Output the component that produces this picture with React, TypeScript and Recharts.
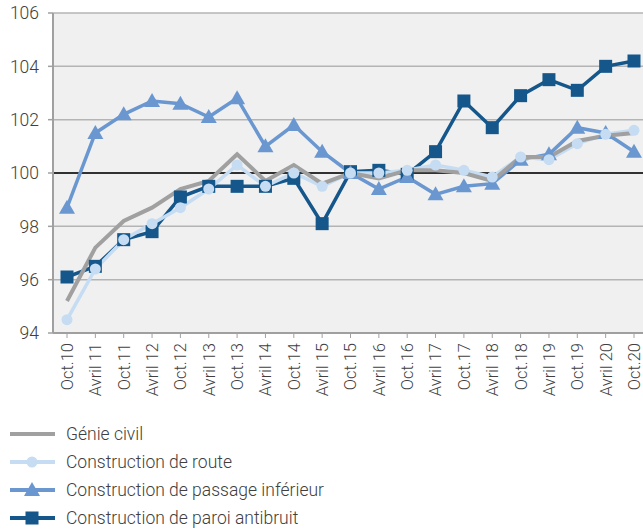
import { CartesianGrid, Legend, Line, LineChart, ReferenceLine, XAxis, YAxis } from "recharts";

const categories = [
  "Oct.10", "Avril 11", "Oct.11", "Avril 12", "Oct.12", "Avril 13", "Oct.13", "Avril 14",
  "Oct.14", "Avril 15", "Oct.15", "Avril 16", "Oct.16", "Avril 17", "Oct.17", "Avril 18",
  "Oct.18", "Avril 19", "Oct.19", "Avril 20", "Oct.20",
];
const genieCivil = [95.2, 97.2, 98.2, 98.7, 99.4, 99.7, 100.7, 99.7, 100.3, 99.6, 100.0, 99.8, 100.1, 100.1, 100.0, 99.7, 100.6, 100.6, 101.2, 101.4, 101.5];
const route = [94.5, 96.4, 97.5, 98.1, 98.7, 99.4, 100.3, 99.5, 100.0, 99.5, 100.0, 100.0, 100.1, 100.3, 100.1, 99.85, 100.6, 100.5, 101.1, 101.45, 101.6];
const passage = [98.7, 101.5, 102.2, 102.7, 102.6, 102.1, 102.8, 101.0, 101.8, 100.8, 100.0, 99.4, 99.85, 99.2, 99.5, 99.6, 100.5, 100.7, 101.7, 101.5, 100.8];
const paroi = [96.1, 96.5, 97.5, 97.8, 99.1, 99.5, 99.5, 99.5, 99.8, 98.1, 100.05, 100.1, 99.95, 100.8, 102.7, 101.7, 102.9, 103.5, 103.1, 104.0, 104.2];
const yTicks = [94, 96, 98, 100, 102, 104, 106];

const data = categories.map((name, i) => ({
  name,
  genieCivil: genieCivil[i],
  route: route[i],
  passage: passage[i],
  paroi: paroi[i],
}));

const C_GRAY = "#a0a0a0";
const C_ROUTE = "#c5dcf2";
const C_PASSAGE = "#6a97d0";
const C_PAROI = "#15578a";
const FONT = "Roboto, 'Noto Sans', sans-serif";

const circleDot = (p: any) => (
  <circle key={p.index} cx={p.cx} cy={p.cy} r={5.5} fill={C_ROUTE} />
);
const triangleDot = (p: any) => (
  <polygon
    key={p.index}
    points={`${p.cx},${p.cy - 8} ${p.cx - 8},${p.cy + 6} ${p.cx + 8},${p.cy + 6}`}
    fill={C_PASSAGE}
  />
);
const squareDot = (p: any) => (
  <rect key={p.index} x={p.cx - 6.5} y={p.cy - 6.5} width={13} height={13} fill={C_PAROI} />
);

const XTick = ({ x, y, payload }: any) => (
  <text
    x={x}
    y={y}
    transform={`rotate(-90 ${x} ${y})`}
    textAnchor="end"
    dy="0.36em"
    fontSize={16.5}
    fill="#404040"
    fontFamily={FONT}
    fontWeight={300}
  >
    {payload.value}
  </text>
);

const legendItems = [
  { label: "Génie civil", color: C_GRAY, marker: "none" },
  { label: "Construction de route", color: C_ROUTE, marker: "circle" },
  { label: "Construction de passage inférieur", color: C_PASSAGE, marker: "triangle" },
  { label: "Construction de paroi antibruit", color: C_PAROI, marker: "square" },
];

const LegendContent = () => (
  <div style={{ height: 112, fontFamily: FONT }}>
    {legendItems.map((it) => (
      <div key={it.label} style={{ height: 28, display: "flex", alignItems: "center" }}>
        <svg width={66} height={28} style={{ flex: "none" }}>
          <line x1={10} x2={55} y1={14} y2={14} stroke={it.color} strokeWidth={4} />
          {it.marker === "circle" && <circle cx={32} cy={14} r={5.5} fill={it.color} />}
          {it.marker === "triangle" && <polygon points="32,6 24,20 40,20" fill={it.color} />}
          {it.marker === "square" && <rect x={25.5} y={7.5} width={13} height={13} fill={it.color} />}
        </svg>
        <span style={{ fontSize: 17.5, color: "#404040", fontWeight: 300 }}>{it.label}</span>
      </div>
    ))}
  </div>
);

export default function App() {
  return (
    <div style={{ position: "fixed", left: 0, top: 0, width: 643, height: 532, overflow: "hidden", background: "#fff" }}>
      <LineChart width={661} height={532} data={data} margin={{ top: 13, right: 13, bottom: 0, left: 0 }}>
        <CartesianGrid vertical={false} stroke="#b4b4b4" strokeWidth={1.5} fill="#f0f0f0" />
        <XAxis
          dataKey="name"
          interval={0}
          height={87}
          padding={{ left: 14, right: 14 }}
          tick={<XTick />}
          tickSize={5}
          tickMargin={5}
          axisLine={{ stroke: "#a0a0a0", strokeWidth: 2 }}
          tickLine={{ stroke: "#a0a0a0", strokeWidth: 1 }}
        />
        <YAxis
          domain={[94, 106]}
          ticks={yTicks}
          width={53}
          tickSize={5}
          tickMargin={9}
          axisLine={{ stroke: "#a0a0a0", strokeWidth: 2 }}
          tickLine={{ stroke: "#a0a0a0", strokeWidth: 1.5 }}
          tick={{ fontSize: 17.5, fill: "#404040", fontFamily: FONT, fontWeight: 300 }}
        />
        <ReferenceLine y={100} stroke="#000" strokeWidth={1.5} />
        <Legend verticalAlign="bottom" align="left" content={<LegendContent />} wrapperStyle={{ left: 0 }} />
        <Line dataKey="paroi" name="Construction de paroi antibruit" stroke={C_PAROI} strokeWidth={3.5} dot={squareDot} activeDot={false} isAnimationActive={false} />
        <Line dataKey="passage" name="Construction de passage inférieur" stroke={C_PASSAGE} strokeWidth={3.5} dot={triangleDot} activeDot={false} isAnimationActive={false} />
        <Line dataKey="route" name="Construction de route" stroke={C_ROUTE} strokeWidth={3.5} dot={circleDot} activeDot={false} isAnimationActive={false} />
        <Line dataKey="genieCivil" name="Génie civil" stroke={C_GRAY} strokeWidth={4} dot={false} activeDot={false} isAnimationActive={false} />
      </LineChart>
    </div>
  );
}
